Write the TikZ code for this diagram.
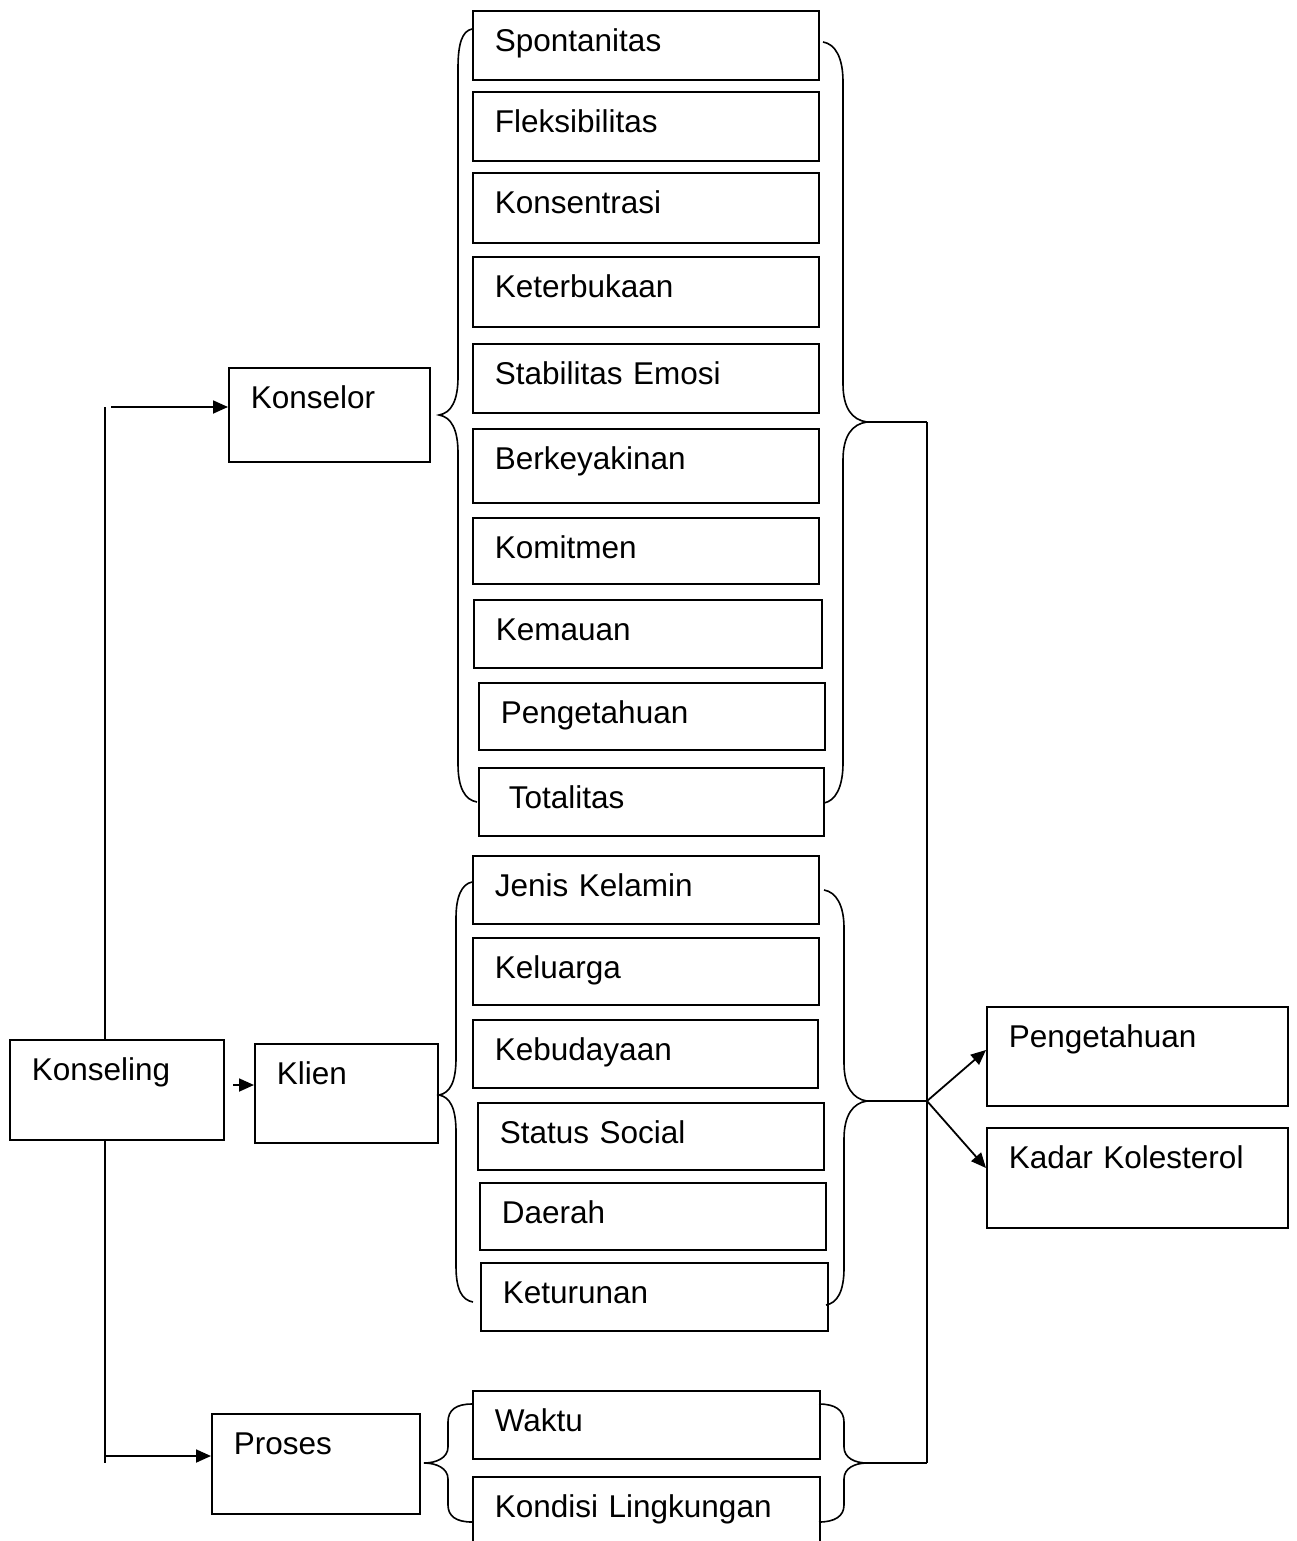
\documentclass[tikz,border=0pt]{standalone}
\usepackage{fontspec}
\setmainfont{Liberation Sans}
\usetikzlibrary{arrows.meta,calc}
\tikzset{
  box/.style={draw, line width=1.8pt, anchor=north west, inner ysep=0pt, inner xsep=22pt,
    align=left, text height=41pt, font=\fontsize{31.5}{36}\selectfont},
  ln/.style={line width=1.8pt},
  arr/.style={line width=1.8pt, -{Triangle[length=15pt,width=13pt]}},
  brc/.style={line width=1.6pt}
}
\begin{document}
\begin{tikzpicture}[x=1pt,y=-1pt]
\useasboundingbox (0,0) rectangle (1296,1541);
\clip (0,0) rectangle (1296,1541);
% column of Konselor
\node[box, text width=302pt, text depth=28pt] (sp) at (472,10) {Spontanitas};
\node[box, text width=302pt, text depth=28pt] (fl) at (472,91) {Fleksibilitas};
\node[box, text width=302pt, text depth=29pt] (ko) at (472,172) {Konsentrasi};
\node[box, text width=302pt, text depth=29pt] (kb) at (472,256) {Keterbukaan};
\node[box, text width=302pt, text depth=28pt] (st) at (472,343) {Stabilitas Emosi};
\node[box, text width=302pt, text depth=33pt] (be) at (472,428) {Berkeyakinan};
\node[box, text width=302pt, text depth=25pt] (km) at (472,517) {Komitmen};
\node[box, text width=304pt, text depth=27pt] (kem) at (473,599) {Kemauan};
\node[box, text width=302pt, text depth=26pt] (pe) at (478,682) {Pengetahuan};
\node[box, inner xsep=30pt, text width=285pt, text depth=27pt] (to) at (478,767) {Totalitas};
% column of Klien
\node[box, text width=302pt, text depth=27pt] (je) at (472,855) {Jenis Kelamin};
\node[box, text width=302pt, text depth=26pt] (kel) at (472,937) {Keluarga};
\node[box, text width=301pt, text depth=27pt] (keb) at (472,1019) {Kebudayaan};
\node[box, text width=302pt, text depth=26pt] (ss) at (477,1102) {Status Social};
\node[box, text width=302pt, text depth=26pt] (da) at (479,1182) {Daerah};
\node[box, text width=303pt, text depth=27pt] (kt) at (480,1262) {Keturunan};
% column of Proses
\node[box, text width=303pt, text depth=27pt] (wa) at (472,1390) {Waktu};
\node[box, text width=303pt, text depth=49pt] (kl) at (472,1476) {Kondisi Lingkungan};
% left boxes
\node[box, text width=157pt, text depth=53pt] (konselor) at (228,367) {Konselor};
\node[box, text width=170pt, text depth=59pt] (konseling) at (9,1039) {Konseling};
\node[box, text width=139pt, text depth=58pt] (klien) at (254,1043) {Klien};
\node[box, text width=164pt, text depth=59pt] (proses) at (211,1413) {Proses};
% right boxes
\node[box, text width=257pt, text depth=58pt] (peng) at (986,1006) {Pengetahuan};
\node[box, text width=257pt, text depth=59pt] (kadar) at (986,1127) {Kadar Kolesterol};

% coordinates
\coordinate (vtop) at (105,407);
\coordinate (a1) at (111,407);
\coordinate (vbot) at (105,1463);
\coordinate (a3) at (105,1456);
\coordinate (a2) at (233,1085);
\coordinate (t1) at (867,422);
\coordinate (t2) at (867,1101);
\coordinate (t3) at (867,1463);
\coordinate (r1) at (927,422);
\coordinate (r2) at (927,1101);
\coordinate (r3) at (927,1463);

% left trunk
\draw[ln] (vtop) -- (konseling.north -| vtop);
\draw[ln] (konseling.south -| vbot) -- (vbot);
\draw[arr] (a1) -- (konselor.west |- a1);
\draw[arr] (a2) -- (klien.west |- a2);
\draw[arr] (a3) -- (proses.west |- a3);

% braces: Konselor group
\draw[brc] (472,29) .. controls (462,31) and (458,44) .. (458,68) -- (458,377)
  .. controls (458,401) and (451,413) .. (439,415)
  .. controls (451,417) and (458,429) .. (458,453) -- (458,764)
  .. controls (458,788) and (465,800) .. (477,802);
\draw[brc] (823,42) .. controls (835,44) and (843,57) .. (843,82) -- (843,384)
  .. controls (843,408) and (852,420) .. (t1)
  .. controls (852,424) and (843,436) .. (843,460) -- (843,763)
  .. controls (843,788) and (835,801) .. (824,803);
% braces: Klien group
\draw[brc] (472,882) .. controls (462,884) and (456,896) .. (456,918) -- (456,1058)
  .. controls (456,1082) and (450,1093) .. (439,1095)
  .. controls (450,1097) and (456,1108) .. (456,1132) -- (456,1266)
  .. controls (456,1290) and (462,1300) .. (473,1302);
\draw[brc] (824,890) .. controls (836,892) and (844,905) .. (844,928) -- (844,1063)
  .. controls (844,1087) and (853,1099) .. (t2)
  .. controls (853,1103) and (844,1115) .. (844,1139) -- (844,1268)
  .. controls (844,1292) and (837,1303) .. (826,1305);
% braces: Proses group
\draw[brc] (472,1404) .. controls (456,1404) and (448,1410) .. (448,1422) -- (448,1447)
  .. controls (448,1458) and (436,1463) .. (424,1463)
  .. controls (436,1463) and (448,1468) .. (448,1479) -- (448,1505)
  .. controls (448,1516) and (456,1522) .. (472,1522);
\draw[brc] (819,1404) .. controls (835,1404) and (844,1410) .. (844,1422) -- (844,1447)
  .. controls (844,1458) and (855,1463) .. (t3)
  .. controls (855,1463) and (844,1468) .. (844,1479) -- (844,1505)
  .. controls (844,1516) and (835,1522) .. (819,1522);

% right collector
\draw[ln] (t1) -- (r1);
\draw[ln] (t2) -- (r2);
\draw[ln] (t3) -- (r3);
\draw[ln] (r1) -- (r3);
\draw[arr] (r2) -- ($(peng.north west)+(0,44)$);
\draw[arr] (r2) -- ($(kadar.north west)+(0,41)$);
\end{tikzpicture}
\end{document}
